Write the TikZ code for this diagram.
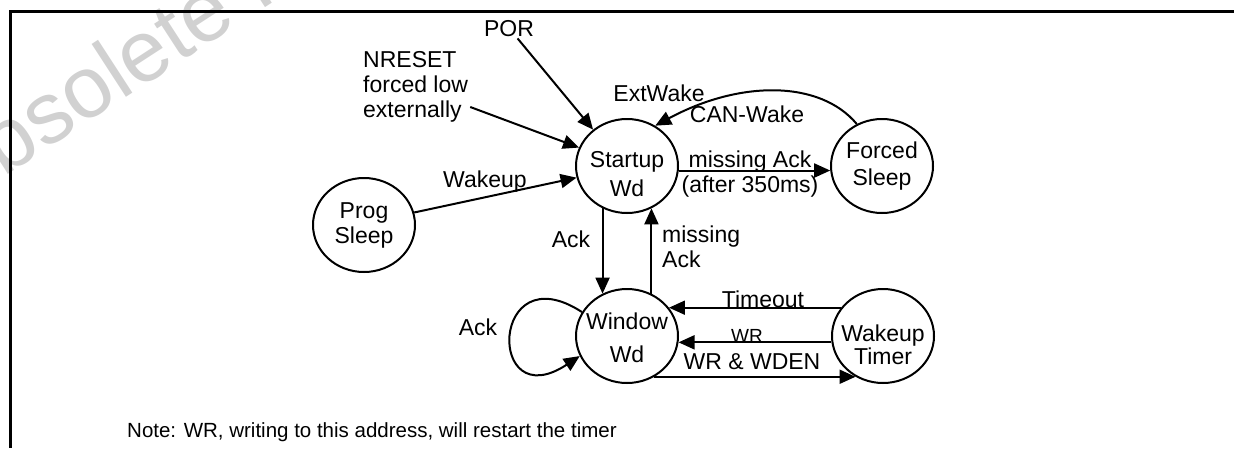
\documentclass[tikz,border=0pt]{standalone}
\usepackage{fontspec}
\setmainfont{Liberation Sans}
\usetikzlibrary{arrows.meta,shapes.geometric}

% state name in two centred lines, optional strut to lower the text
\newcommand{\stname}[3][0pt]{\makebox[0pt]{\rule{0pt}{#1}#2}\\\makebox[0pt]{#3}}

\tikzset{
	state/.style={draw, ellipse, line width=2pt, minimum width=102pt, minimum height=94pt,
		inner sep=0pt, align=center, font=\fontsize{23}{27}\selectfont},
	lbl/.style={inner sep=2pt, font=\fontsize{23}{25}\selectfont},
	trans/.style={line width=2pt, -{Triangle[length=16pt,width=14pt]}},
}

\begin{document}
\begin{tikzpicture}[x=1pt,y=-1pt]
	\useasboundingbox (0,0) rectangle (1234,448);

	% watermark
	\begin{scope}
		\clip (0,0) rectangle (1234,448);
		\node[anchor=base west, rotate=33, inner sep=0pt, text=black!18,
			font=\fontsize{87}{87}\selectfont] (wmark) at (-53,214) {Obsolete Product(s)};
	\end{scope}

	\draw[line width=3pt] (1234,11) -- (10,11) -- (10,448);

	\node[state, font=\fontsize{23}{29}\selectfont] (startup) at (627,166) {\stname[33pt]{Startup}{Wd}};
	\node[state] (forced) at (882,166) {\stname{Forced}{Sleep}};
	\node[state, font=\fontsize{23}{25}\selectfont] (prog) at (364,225) {\stname{Prog}{Sleep}};
	\node[state, font=\fontsize{23}{33}\selectfont] (window) at (627,336) {\stname[21pt]{Window}{Wd}};
	\node[state, font=\fontsize{23}{23}\selectfont] (wakeup) at (883,336) {\stname[35pt]{Wakeup}{Timer}};

	\node[lbl, anchor=base] (por) at (509,36) {POR};
	\node[lbl, anchor=north west, align=left] (nreset) at (361,49) {NRESET\\forced low\\externally};
	\node[lbl, anchor=base] (wakelbl) at (485,187) {Wakeup};
	\node[lbl, anchor=base] (extwake) at (659,101) {ExtWake};
	\node[lbl, anchor=base] (canwake) at (747,122) {CAN-Wake};
	\node[lbl, anchor=north, align=center] (missfs) at (750,149) {missing Ack\\(after 350ms)};
	\node[lbl, anchor=base] (ackdown) at (571,247) {Ack};
	\node[lbl, anchor=north west, align=left] (missup) at (660,224) {missing\\Ack};
	\node[lbl, anchor=base] (ackloop) at (478,335) {Ack};
	\node[lbl, anchor=base] (timeout) at (763,307) {Timeout};
	\node[lbl, anchor=base, font=\fontsize{19}{21}\selectfont] (wr) at (747,342) {WR};
	\node[lbl, anchor=base] (wrwden) at (752,369) {WR \& WDEN};

	\draw[trans] (por) -- (startup.133);
	\draw[trans] (nreset) -- (startup.159);
	\draw[trans] (prog.14) -- (startup.193);
	\draw[trans] (startup.-5) -- (forced.185);
	\draw[trans] (forced.121) .. controls (820,80) and (740,80) .. (startup.55);

	\draw[trans] (startup.-120) -- (window.120);
	\draw[trans] (window.60) -- (startup.-60);
	\draw[trans] (window.152) .. controls +(-92,-60) and +(-94,62) .. (window.203);

	\draw[trans] (wakeup.146) -- (window.34);
	\draw[trans] (wakeup.187) -- (window.-7);
	\draw[trans] (window.-56) -- (wakeup.236);

	\node[anchor=base west, inner sep=0pt, font=\fontsize{20.5}{22}\selectfont] (note) at (127,437)
		{Note: WR, writing to this address, will restart the timer};
\end{tikzpicture}
\end{document}
